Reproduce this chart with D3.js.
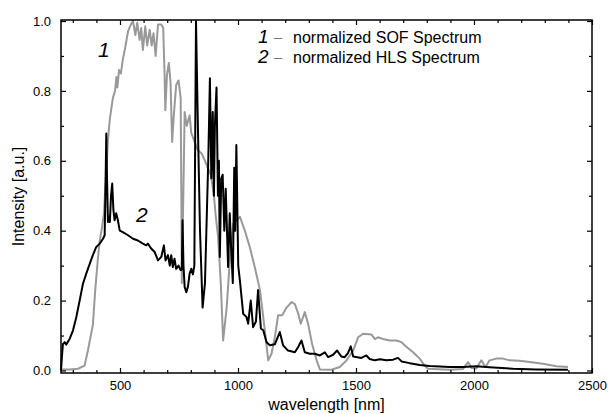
<!DOCTYPE html>
<html>
<head>
<meta charset="utf-8">
<script src="https://cdn.jsdelivr.net/npm/d3@7"></script>
<style>
  body { margin: 0; background: #fff; }
  text { font-family: "Liberation Sans", Arial, sans-serif; }
</style>
</head>
<body>
<script>
const width = 608;
const height = 414;
const margin = { left: 61, right: 16, top: 20, bottom: 41 };

// curve 1 - normalized SOF spectrum (grey)
const sofWavelength = [250, 288, 322, 350, 364, 378, 385, 395, 407, 414, 424, 432, 440, 449, 457, 470, 479, 485, 489, 496,
  504, 512, 521, 534, 546, 555, 565, 573, 583, 590, 597, 607, 615, 626, 634, 642, 651, 661, 675, 683,
  689, 692, 699, 707, 714, 721, 728, 738, 748, 757, 760, 762, 767, 774, 783, 795, 802, 813, 830, 847,
  860, 872, 885, 898, 906, 916, 927, 937, 952, 966, 980, 994, 1008, 1029, 1050, 1071, 1093, 1107, 1117, 1128,
  1142, 1156, 1170, 1187, 1206, 1227, 1241, 1255, 1266, 1283, 1297, 1314, 1333, 1347, 1396, 1431, 1460, 1488, 1509, 1530,
  1565, 1580, 1593, 1615, 1643, 1671, 1693, 1714, 1742, 1770, 1791, 1805, 1897, 1953, 1975, 1989, 2010, 2031, 2049, 2066,
  2094, 2123, 2151, 2193, 2236, 2292, 2349, 2398];
const sofIntensity = [0.003, 0.003, 0.005, 0.014, 0.057, 0.106, 0.13, 0.23, 0.325, 0.37, 0.41, 0.45, 0.55, 0.66, 0.72, 0.78, 0.80, 0.84, 0.81, 0.86,
  0.85, 0.89, 0.92, 0.97, 0.99, 1.0, 0.96, 0.995, 0.946, 0.98, 0.917, 0.985, 0.93, 0.975, 0.93, 0.965, 0.90, 0.99, 0.99, 0.98,
  0.845, 0.745, 0.845, 0.88, 0.826, 0.654, 0.73, 0.817, 0.83, 0.78, 0.50, 0.25, 0.45, 0.74, 0.70, 0.73, 0.68, 0.66, 0.63, 0.62,
  0.60, 0.58, 0.56, 0.50, 0.44, 0.38, 0.25, 0.086, 0.18, 0.32, 0.42, 0.43, 0.44, 0.40, 0.353, 0.296, 0.23, 0.153, 0.095, 0.029,
  0.048, 0.095, 0.158, 0.158, 0.18, 0.196, 0.19, 0.163, 0.134, 0.167, 0.134, 0.076, 0.029, 0.003, 0.002, 0.01, 0.029, 0.057, 0.095, 0.105,
  0.103, 0.09, 0.095, 0.09, 0.086, 0.086, 0.081, 0.067, 0.052, 0.034, 0.014, 0.005, 0.002, 0.004, 0.024, 0.007, 0.006, 0.029, 0.01, 0.029,
  0.034, 0.034, 0.029, 0.028, 0.024, 0.019, 0.012, 0.01];

// curve 2 - normalized HLS spectrum (black)
const hlsWavelength = [250, 254, 258, 266, 272, 287, 301, 315, 329, 343, 357, 372, 385, 399, 414, 428, 435, 438, 442, 445,
  449, 453, 457, 462, 467, 472, 477, 484, 491, 499, 512, 534, 555, 576, 597, 611, 618, 632, 647, 661,
  675, 686, 693, 703, 711, 717, 724, 731, 738, 748, 757, 762, 765, 769, 774, 781, 788, 795, 802, 809,
  815, 822, 830, 839, 850, 860, 868, 874, 881, 887, 893, 898, 902, 909, 915, 919, 923, 929, 935, 942,
  948, 958, 965, 971, 978, 984, 988, 993, 1001, 1008, 1022, 1036, 1043, 1054, 1064, 1076, 1085, 1097, 1107, 1121,
  1135, 1156, 1177, 1191, 1212, 1241, 1255, 1269, 1283, 1304, 1325, 1347, 1368, 1382, 1403, 1420, 1438, 1452, 1466, 1478,
  1488, 1523, 1544, 1558, 1580, 1601, 1629, 1657, 1678, 1693, 1728, 1770, 1812, 1897, 1953, 2010, 2066, 2165, 2264, 2398];
const hlsIntensity = [0.0, 0.04, 0.075, 0.081, 0.074, 0.091, 0.115, 0.153, 0.2, 0.248, 0.277, 0.306, 0.33, 0.353, 0.363, 0.377, 0.387, 0.50, 0.678, 0.55,
  0.425, 0.44, 0.425, 0.50, 0.535, 0.46, 0.43, 0.45, 0.43, 0.40, 0.396, 0.387, 0.377, 0.372, 0.363, 0.358, 0.363, 0.349, 0.339, 0.315,
  0.325, 0.358, 0.315, 0.33, 0.30, 0.33, 0.296, 0.32, 0.291, 0.30, 0.287, 0.29, 0.43, 0.30, 0.239, 0.224, 0.24, 0.277, 0.291, 0.275,
  0.30, 1.0, 0.70, 0.40, 0.18, 0.25, 0.45, 0.60, 0.836, 0.55, 0.74, 0.50, 0.70, 0.81, 0.50, 0.60, 0.325, 0.55, 0.56, 0.40,
  0.52, 0.296, 0.45, 0.35, 0.25, 0.58, 0.40, 0.645, 0.30, 0.258, 0.162, 0.153, 0.134, 0.20, 0.124, 0.14, 0.23, 0.12, 0.115, 0.081,
  0.072, 0.075, 0.11, 0.072, 0.057, 0.052, 0.067, 0.086, 0.052, 0.048, 0.048, 0.043, 0.052, 0.038, 0.045, 0.057, 0.04, 0.038, 0.05, 0.069,
  0.04, 0.036, 0.043, 0.033, 0.029, 0.032, 0.029, 0.031, 0.036, 0.026, 0.021, 0.016, 0.013, 0.01, 0.01, 0.012, 0.009, 0.005, 0.003, 0.002];

const xMajorTicks = [500, 1000, 1500, 2000, 2500];
const xMinorTicks = [300, 400, 600, 700, 800, 900, 1100, 1200, 1300, 1400, 1600, 1700, 1800, 1900, 2100, 2200, 2300, 2400];
const yMajorTicks = [0.0, 0.2, 0.4, 0.6, 0.8, 1.0];
const yMinorTicks = [0.1, 0.3, 0.5, 0.7, 0.9];
const legendLabels = ["normalized SOF Spectrum", "normalized HLS Spectrum"];

const sofColor = "#999";
const hlsColor = "#000";

const svg = d3.select("body")
    .append("svg")
    .attr("width", width)
    .attr("height", height)
    .style("background", "#fff");

const x = d3.scaleLinear().domain([250, 2500]).range([margin.left, width - margin.right]);
const y = d3.scaleLinear().domain([-0.0072, 1.0029]).range([height - margin.bottom, margin.top]);

const line = d3.line()
    .x(d => x(d[0]))
    .y(d => y(d[1]));

const sof = d3.zip(sofWavelength, sofIntensity);
const hls = d3.zip(hlsWavelength, hlsIntensity);

// curves
svg.append("path")
    .datum(sof)
    .attr("d", line)
    .attr("fill", "none")
    .attr("stroke", sofColor)
    .attr("stroke-width", 2)
    .attr("stroke-linejoin", "round");

svg.append("path")
    .datum(hls)
    .attr("d", line)
    .attr("fill", "none")
    .attr("stroke", hlsColor)
    .attr("stroke-width", 2)
    .attr("stroke-linejoin", "round");

// axes, ticks pointing inward on all four sides
const bottom = height - margin.bottom;
const right = width - margin.right;

function drawAxis(axis, transform) {
    const g = svg.append("g").attr("transform", transform).call(axis);
    g.select(".domain").remove();
    g.selectAll("line").attr("stroke", "#000").attr("stroke-width", 1.2);
    g.selectAll("text")
        .attr("font-family", "Liberation Sans, Arial, sans-serif")
        .attr("font-size", 13)
        .attr("fill", "#000");
    return g;
}

drawAxis(d3.axisBottom(x).tickValues(xMajorTicks).tickSize(-5).tickPadding(8).tickFormat(d3.format("d")),
    `translate(0,${bottom})`);
drawAxis(d3.axisBottom(x).tickValues(xMinorTicks).tickSize(-3).tickFormat(""), `translate(0,${bottom})`);
drawAxis(d3.axisTop(x).tickValues(xMajorTicks).tickSize(-5).tickFormat(""), `translate(0,${margin.top})`);
drawAxis(d3.axisTop(x).tickValues(xMinorTicks).tickSize(-3).tickFormat(""), `translate(0,${margin.top})`);

drawAxis(d3.axisLeft(y).tickValues(yMajorTicks).tickSize(-5).tickPadding(10).tickFormat(d3.format(".1f")),
    `translate(${margin.left},0)`);
drawAxis(d3.axisLeft(y).tickValues(yMinorTicks).tickSize(-3).tickFormat(""), `translate(${margin.left},0)`);
drawAxis(d3.axisRight(y).tickValues(yMajorTicks).tickSize(-5).tickFormat(""), `translate(${right},0)`);
drawAxis(d3.axisRight(y).tickValues(yMinorTicks).tickSize(-3).tickFormat(""), `translate(${right},0)`);

// frame
svg.append("rect")
    .attr("x", margin.left)
    .attr("y", margin.top)
    .attr("width", right - margin.left)
    .attr("height", bottom - margin.top)
    .attr("fill", "none")
    .attr("stroke", "#000")
    .attr("stroke-width", 1.5);

// axis titles
svg.append("text")
    .attr("x", (margin.left + right) / 2)
    .attr("y", 410)
    .attr("text-anchor", "middle")
    .attr("font-size", 16)
    .text("wavelength [nm]");

svg.append("text")
    .attr("transform", `translate(24,${(margin.top + bottom) / 2}) rotate(-90)`)
    .attr("text-anchor", "middle")
    .attr("font-size", 16)
    .text("Intensity [a.u.]");

// curve labels
const serif = "Liberation Serif, Times New Roman, serif";
svg.append("text")
    .attr("x", 98).attr("y", 57)
    .attr("font-family", serif).attr("font-style", "italic").attr("font-size", 21)
    .text("1");
svg.append("text")
    .attr("x", 136).attr("y", 222)
    .attr("font-family", serif).attr("font-style", "italic").attr("font-size", 21)
    .text("2");

// legend
const legend = svg.append("g");
legendLabels.forEach((label, i) => {
    const ly = 43 + i * 20;
    legend.append("text")
        .attr("x", 258).attr("y", ly)
        .attr("font-family", serif).attr("font-style", "italic").attr("font-size", 19)
        .text(String(i + 1));
    legend.append("text")
        .attr("x", 274).attr("y", ly - 1)
        .attr("font-size", 15).attr("fill", "#777")
        .text("\u2013");
    legend.append("text")
        .attr("x", 293).attr("y", ly)
        .attr("font-size", 16)
        .text(label);
});
</script>
</body>
</html>
